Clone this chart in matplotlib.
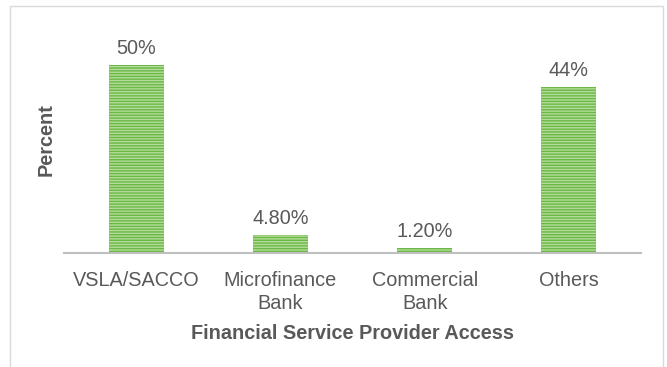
import matplotlib.pyplot as plt
from matplotlib.patches import Rectangle

plt.rcParams['font.family'] = ['Liberation Sans', 'DejaVu Sans']
plt.rcParams['hatch.linewidth'] = 1.0

categories = ['VSLA/SACCO', 'Microfinance\nBank', 'Commercial\nBank', 'Others']
values = [50, 4.8, 1.2, 44]
labels = ['50%', '4.80%', '1.20%', '44%']

text_color = '#595959'
fs = 14.3

fig = plt.figure(figsize=(6.67, 3.67), dpi=100)
ax = fig.add_axes([0.096, 0.311, 0.865, 0.615])

x = range(len(categories))
bars = ax.bar(x, values, width=0.38, color='#b2dc99', edgecolor='#6cb846',
              hatch='------', linewidth=0)

for bar, lab in zip(bars, labels):
    ax.annotate(lab, (bar.get_x() + bar.get_width() / 2, bar.get_height()),
                xytext=(0, 5), textcoords='offset points',
                ha='center', va='bottom', fontsize=fs, color=text_color)

ax.set_xlim(-0.5, 3.5)
ax.set_ylim(0, 60)
ax.set_xticks(list(x))
ax.set_xticklabels(categories, fontsize=fs, color=text_color, linespacing=1.25)
ax.tick_params(axis='x', length=0, pad=13)
ax.set_yticks([])
for side in ['top', 'right', 'left']:
    ax.spines[side].set_visible(False)
ax.spines['bottom'].set_color('#bfbfbf')
ax.spines['bottom'].set_linewidth(1.5)

ax.set_xlabel('Financial Service Provider Access', fontsize=fs,
              fontweight='bold', color=text_color, labelpad=8)
ax.set_ylabel('Percent', fontsize=fs, fontweight='bold', color=text_color,
              labelpad=6)

# light frame around the chart area
fig.patches.append(Rectangle((10 / 667, -0.1), 653 / 667, 1.1 - 6 / 367,
                             transform=fig.transFigure, fill=False,
                             edgecolor='#d9d9d9', linewidth=1))

fig.savefig('out.png', dpi=100)
